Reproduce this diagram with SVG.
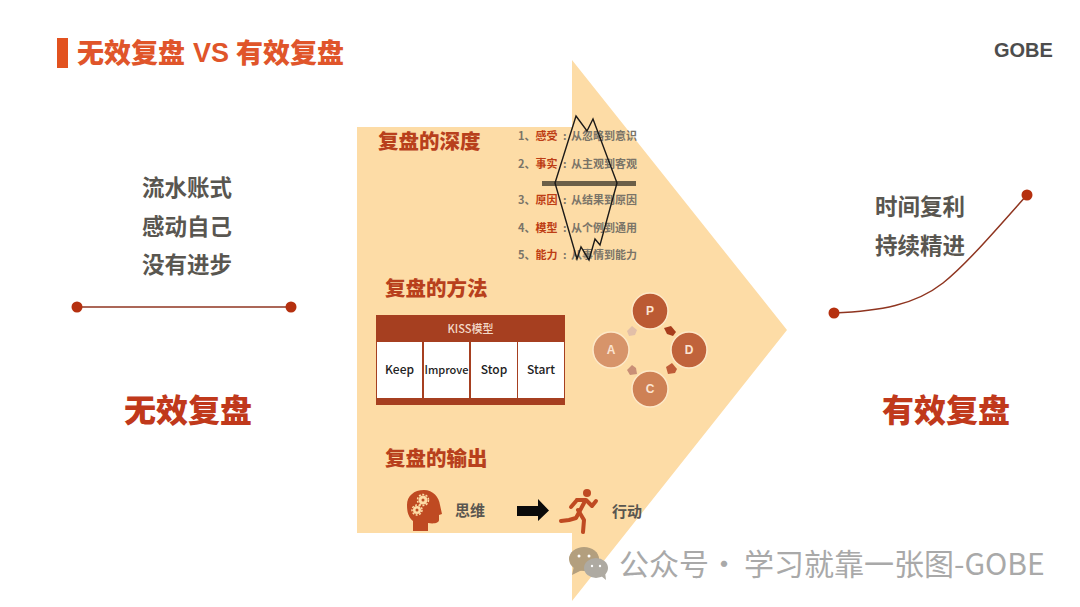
<svg xmlns="http://www.w3.org/2000/svg" width="1080" height="607" viewBox="0 0 1080 607">
<style>
text{font-family:"Noto Sans CJK SC","Liberation Sans",sans-serif;font-weight:700}
.gr{fill:#595650}.re{fill:#c0391b}.hd{fill:#b8401c;font-size:20.500px;font-weight:900}
.li{font-size:11px;fill:#7a7468}.lr{font-size:11px;fill:#bd3d14}
.ks{font-size:12px;fill:#222;text-anchor:middle;font-weight:500}
.lat{font-family:"Liberation Sans",sans-serif}
.dot{fill:#b5300f}.wl{fill:none;stroke:#8f3520;stroke-width:1.500}
.big{font-size:32px;font-weight:900;text-anchor:middle}
.sub{font-size:22.500px;text-anchor:middle}
.tt{font-size:27px;fill:#e0552a;font-weight:900}
.wm{font-size:30px;fill:#a9a9a9;font-weight:400}
</style>
<rect width="1080" height="607" fill="#fff"/>
<g id="title"><rect x="57" y="38" width="11" height="30" fill="#e2521f"/><text x="77" y="63" class="tt">无效复盘</text><text x="193" y="62" class="tt lat">VS</text><text x="236" y="63" class="tt">有效复盘</text></g>
<text id="logo" x="994" y="57" font-size="20" fill="#4d4d4d" class="lat">GOBE</text>
<polygon id="arrow" points="357,127 572,127 572,60 787,330 572,601 572,533 357,533" fill="#fddca6"/>
<g id="left"><text x="187" y="196" class="sub gr">流水账式</text><text x="187" y="235" class="sub gr">感动自己</text><text x="187" y="273" class="sub gr">没有进步</text>
<path class="wl" d="M77 307H291"/><circle class="dot" cx="77" cy="307" r="5.500"/><circle class="dot" cx="291" cy="307" r="5.500"/>
<text x="188" y="422" class="big re">无效复盘</text></g>
<g id="right"><text x="920" y="215" class="sub gr">时间复利</text><text x="920" y="254" class="sub gr">持续精进</text>
<path class="wl" d="M834 313C880 311 915 305 943 283C968 263 1000 225 1027 195"/><circle class="dot" cx="834" cy="313" r="5.500"/><circle class="dot" cx="1027" cy="195" r="5.500"/>
<text x="946" y="422" class="big re">有效复盘</text></g>
<g id="depth"><text x="378" y="149" class="hd">复盘的深度</text>
<text x="518" y="140" class="li">1、<tspan class="lr">感受</tspan><tspan x="563">:</tspan><tspan x="571">从忽略到意识</tspan></text>
<text x="518" y="168" class="li">2、<tspan class="lr">事实</tspan><tspan x="563">:</tspan><tspan x="571">从主观到客观</tspan></text>
<text x="518" y="204" class="li">3、<tspan class="lr">原因</tspan><tspan x="563">:</tspan><tspan x="571">从结果到原因</tspan></text>
<text x="518" y="232" class="li">4、<tspan class="lr">模型</tspan><tspan x="563">:</tspan><tspan x="571">从个例到通用</tspan></text>
<text x="518" y="259" class="li">5、<tspan class="lr">能力</tspan><tspan x="563">:</tspan><tspan x="571">从事情到能力</tspan></text>
<rect x="542" y="181" width="94" height="5" fill="#6b5f48"/>
<polygon points="576,116 587,131 593,119 617,183 600,245 595,239 589,260 581,247 577,259 555,183" fill="none" stroke="#1c1a18" stroke-width="1.400"/></g>
<g id="method"><text x="385" y="296" class="hd">复盘的方法</text>
<rect x="376" y="315" width="189" height="90" fill="#a63f20"/>
<text x="470.500" y="333" font-size="11" fill="#f3d9c8" text-anchor="middle" style="font-weight:500">KISS模型</text>
<rect x="377" y="342" width="45" height="56" fill="#fff"/><rect x="424" y="342" width="45" height="56" fill="#fff"/><rect x="471" y="342" width="46" height="56" fill="#fff"/><rect x="518" y="342" width="46" height="56" fill="#fff"/>
<text x="399.500" y="374" class="ks">Keep</text><text x="446.500" y="374" class="ks" style="font-size:11px">Improve</text><text x="494" y="374" class="ks">Stop</text><text x="541" y="374" class="ks">Start</text></g>
<g id="pdca" stroke="#fde8c8" stroke-width="1.500">
<circle cx="650" cy="311" r="18" fill="#bb5a33"/><circle cx="689" cy="350" r="18" fill="#c0633b"/><circle cx="650" cy="389" r="18" fill="#ce8155"/><circle cx="611" cy="350" r="18" fill="#d7946a"/>
<g stroke="none"><polygon points="664,328 671,326 676,332 673,336 667,334" fill="#a83d1c"/><polygon points="666,367 672,363 677,369 675,373 668,374" fill="#bf5c38"/><polygon points="627,370 632,365 636,368 637,374 630,375" fill="#c98f76"/><polygon points="627,331 632,326 637,330 635,335 629,336" fill="#e2bfa8"/></g>
<g stroke="none" text-anchor="middle" font-size="12" fill="#fbe3d0"><text x="650" y="315" class="lat">P</text><text x="689" y="354" class="lat">D</text><text x="650" y="393" class="lat">C</text><text x="611" y="354" class="lat">A</text></g></g>
<g id="output"><text x="385" y="466" class="hd">复盘的输出</text>
<path fill="#bf4a22" d="M413 531V521C408 517 407 511 407 505C407 496 414 490 424 490C433 490 439 497 440 505L442 514L439 515V520C439 523 434 524 428 523V531Z"/>
<g id="gears"><circle cx="423" cy="500" r="4.500" fill="#fddca6"/><circle cx="423" cy="500" r="5.500" fill="none" stroke="#fddca6" stroke-width="1.500" stroke-dasharray="2 1.500"/><circle cx="423" cy="500" r="1.500" fill="#bf4a22"/><circle cx="417" cy="510" r="4" fill="#fddca6"/><circle cx="417" cy="510" r="5" fill="none" stroke="#fddca6" stroke-width="1.500" stroke-dasharray="2 1.500"/><circle cx="417" cy="510" r="1.500" fill="#bf4a22"/></g>
<text x="455" y="516" font-size="15" class="gr">思维</text>
<polygon points="517,506 538,506 538,499 549,510.500 538,521 538,516 517,516" fill="#0a0a0a"/>
<g fill="none" stroke="#bf4a22" stroke-width="4" stroke-linecap="round" stroke-linejoin="round"><path d="M584 503L576 518L569 520L561 521"/><path d="M578 510L584 520L583 532"/><path d="M577 500L586 500L592 506L596 501"/><path d="M577 500L571 507"/></g><circle cx="587" cy="493" r="4" fill="#bf4a22"/>
<text x="612" y="517" font-size="15" class="gr">行动</text></g>
<g id="watermark"><ellipse cx="584" cy="559" rx="15" ry="12" fill="#b39f7e"/><polygon points="574,566 572,575 582,570" fill="#b39f7e"/><ellipse cx="596" cy="568" rx="12" ry="10" fill="#aeaaa2"/><polygon points="600,575 606,580 605,572" fill="#aeaaa2"/>
<circle cx="579" cy="556" r="1.500" fill="#fff"/><circle cx="589" cy="556" r="1.500" fill="#fff"/><circle cx="592" cy="566" r="1.200" fill="#fff"/><circle cx="600" cy="566" r="1.200" fill="#fff"/>
<text x="619" y="575" class="wm">公众号<tspan x="709">·</tspan><tspan x="744">学习就靠一张图-GOBE</tspan></text></g>
</svg>
